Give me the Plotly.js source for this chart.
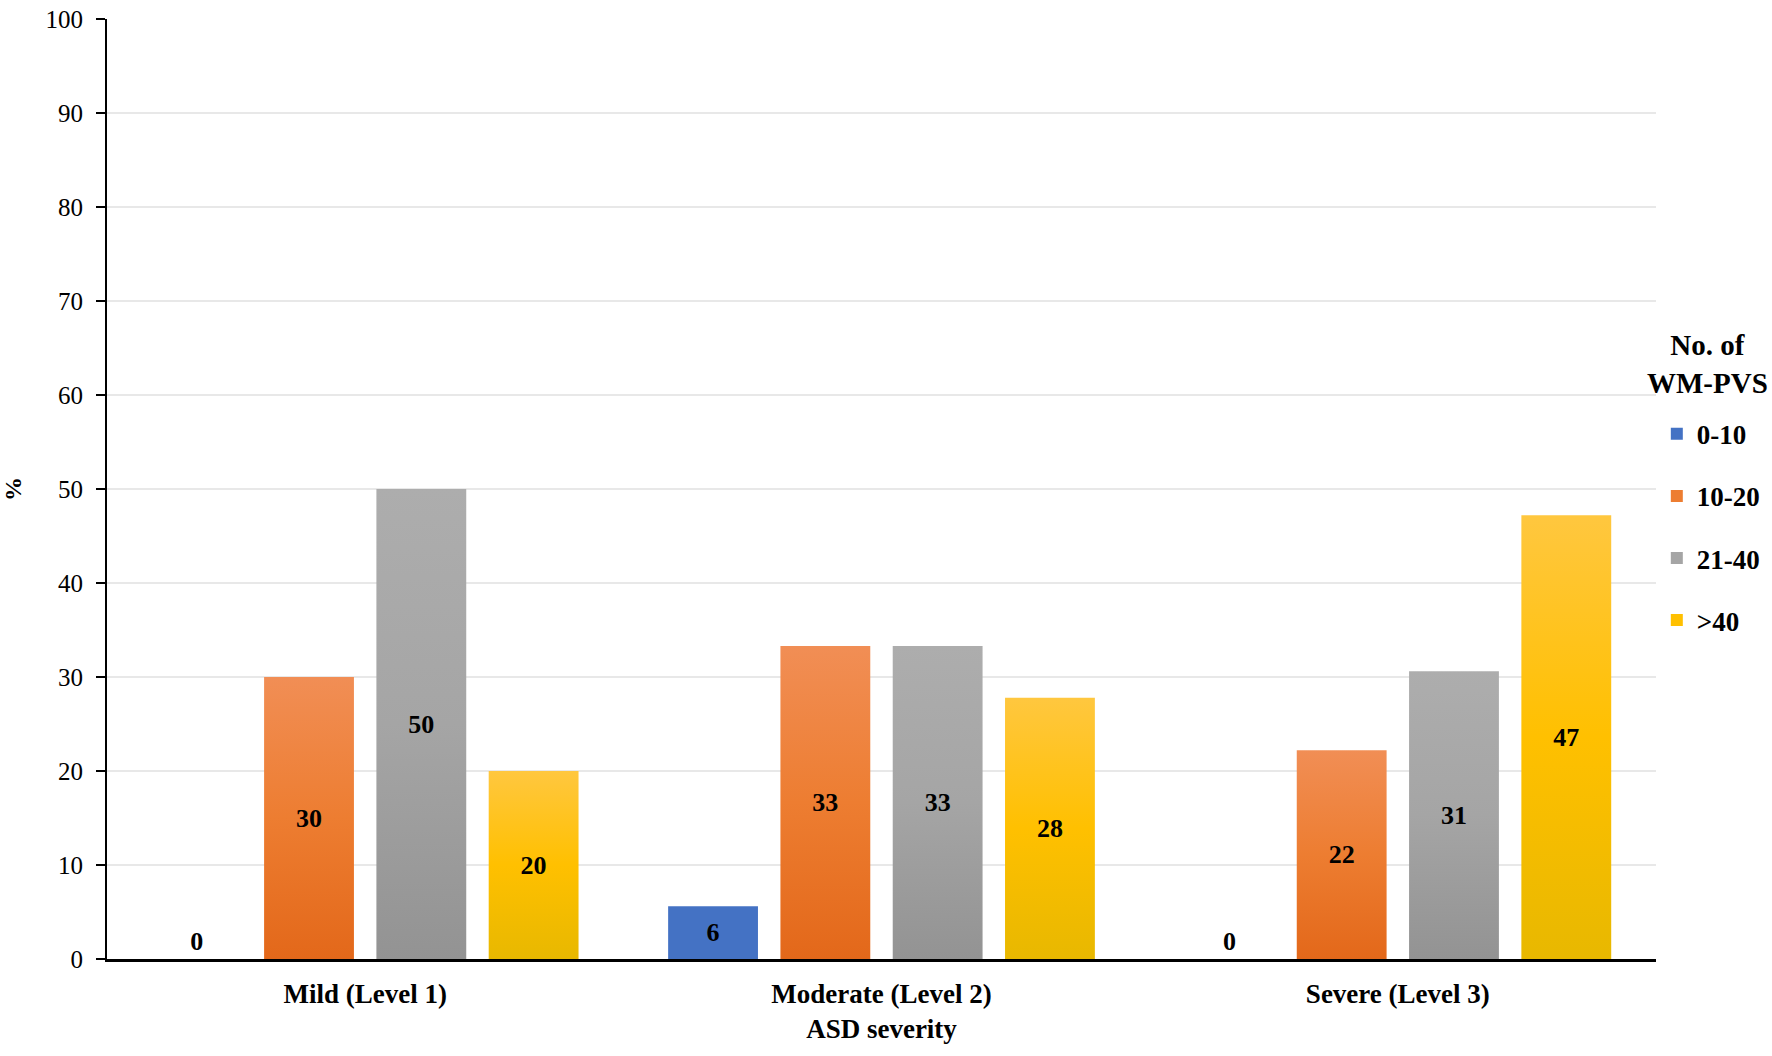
<!DOCTYPE html>
<html>
<head>
<meta charset="utf-8">
<script src="https://cdn.plot.ly/plotly-3.0.1.min.js"></script>
<style>
html,body{margin:0;padding:0;background:#fff;}
#chart{width:1772px;height:1056px;}
</style>
</head>
<body>
<div id="chart"></div>
<script>
// ---- data ----
const categories = ['Mild (Level 1)', 'Moderate (Level 2)', 'Severe (Level 3)'];
const seriesNames = ['0-10', '10-20', '21-40', '>40'];
const pvs0to10  = [0, 5.6, 0];
const pvs10to20 = [30, 33.3, 22.2];
const pvs21to40 = [50, 33.3, 30.6];
const pvsOver40 = [20, 27.8, 47.2];
const yTickVals = [0, 10, 20, 30, 40, 50, 60, 70, 80, 90, 100];
const legendTitle = 'No. of<br>WM-PVS';

const seriesValues = [pvs0to10, pvs10to20, pvs21to40, pvsOver40];
const baseColors = ['#4472C4', '#ED7D31', '#A5A5A5', '#FFC000'];
const gradTop    = ['#4472C4', '#F18E55', '#ADADAD', '#FFC73F'];
const gradBottom = ['#4472C4', '#E3681A', '#939393', '#E8B800'];

const serif = 'Liberation Serif, Times New Roman, serif';

const traces = seriesValues.map((vals, i) => ({
  type: 'bar',
  name: seriesNames[i],
  legendgroup: 'g' + i,
  x: categories,
  y: vals,
  marker: {color: baseColors[i], line: {width: 0}},
  texttemplate: '%{y:.0f}',
  textposition: vals.map(v => v === 0 ? 'outside' : 'inside'),
  insidetextanchor: 'middle',
  textangle: 0,
  constraintext: 'none',
  cliponaxis: false,
  textfont: {family: serif, size: 26, color: '#000', weight: 700},
  insidetextfont: {family: serif, size: 26, color: '#000', weight: 700},
  outsidetextfont: {family: serif, size: 26, color: '#000', weight: 700},
  hoverinfo: 'x+y+name'
}));

const layout = {
  width: 1772,
  height: 1056,
  paper_bgcolor: '#fff',
  plot_bgcolor: '#fff',
  margin: {l: 107, r: 116, t: 19, b: 97},
  barmode: 'group',
  bargap: 0.13,
  bargroupgap: 0.2,
  font: {family: serif, color: '#000'},
  xaxis: {
    type: 'category',
    showline: true,
    linecolor: '#000',
    linewidth: 2.5,
    ticks: '',
    ticklabelstandoff: 9,
    showgrid: false,
    zeroline: false,
    tickfont: {family: serif, size: 27, color: '#000', weight: 700},
    title: {text: 'ASD severity', font: {family: serif, size: 27, color: '#000', weight: 700}, standoff: 11}
  },
  yaxis: {
    range: [0, 100],
    tickvals: yTickVals,
    ticktext: yTickVals.map(String),
    showline: true,
    linecolor: '#000',
    linewidth: 2,
    ticks: 'outside',
    ticklen: 9,
    tickwidth: 2,
    tickcolor: '#000',
    ticklabelstandoff: 8,
    showgrid: true,
    gridcolor: '#E8E8E8',
    gridwidth: 1.5,
    zeroline: false,
    tickfont: {family: serif, size: 25, color: '#000'},
    title: {text: '%', font: {family: serif, size: 24, color: '#000', weight: 700}, standoff: 21}
  },
  legend: {
    xref: 'container',
    yref: 'container',
    x: 0.935,
    xanchor: 'left',
    y: 0.612,
    yanchor: 'top',
    traceorder: 'grouped',
    tracegroupgap: 24,
    font: {family: serif, size: 27, color: '#000', weight: 700},
    itemwidth: 30,
    bgcolor: 'rgba(0,0,0,0)'
  },
  annotations: [{
    xref: 'paper', yref: 'paper',
    x: 1.0335, y: 0.633,
    xanchor: 'center', yanchor: 'middle',
    text: legendTitle,
    showarrow: false,
    align: 'center',
    font: {family: serif, size: 29, color: '#000', weight: 700}
  }],
  showlegend: true
};

Plotly.newPlot('chart', traces, layout, {displayModeBar: false, staticPlot: true}).then(gd => {
  // vertical gradient fill for each bar (light top, darker bottom)
  const svg = gd.querySelector('.main-svg');
  const NS = 'http://www.w3.org/2000/svg';
  let defs = svg.querySelector('defs');
  if (!defs) { defs = document.createElementNS(NS, 'defs'); svg.insertBefore(defs, svg.firstChild); }
  baseColors.forEach((c, i) => {
    const lg = document.createElementNS(NS, 'linearGradient');
    lg.setAttribute('id', 'bargrad' + i);
    lg.setAttribute('x1', '0'); lg.setAttribute('y1', '0');
    lg.setAttribute('x2', '0'); lg.setAttribute('y2', '1');
    [[0, gradTop[i]], [0.5, c], [1, gradBottom[i]]].forEach(([o, col]) => {
      const s = document.createElementNS(NS, 'stop');
      s.setAttribute('offset', String(o)); s.setAttribute('stop-color', col);
      lg.appendChild(s);
    });
    defs.appendChild(lg);
  });
  gd.querySelectorAll('.barlayer .trace.bars').forEach((tr, i) => {
    tr.querySelectorAll('.point path').forEach(p => { p.style.fill = 'url(#bargrad' + i + ')'; });
  });
});
</script>
</body>
</html>
